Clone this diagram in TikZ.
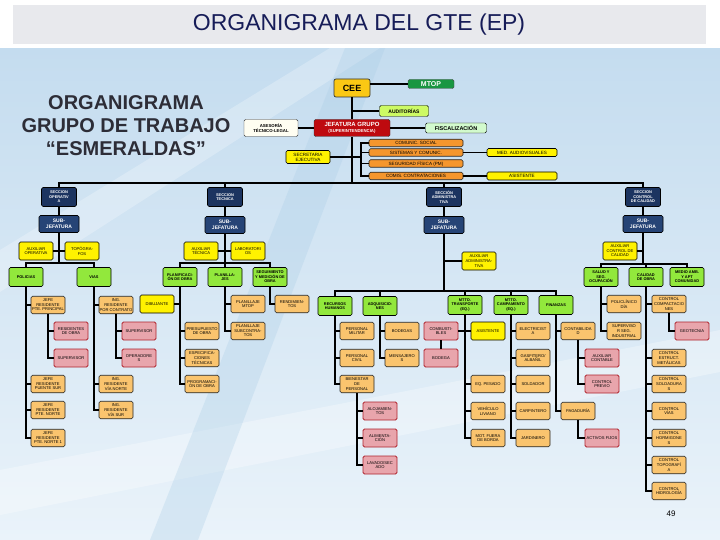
\documentclass[tikz,border=0pt]{standalone}
\usepackage{fontspec}
\setmainfont{Liberation Sans}
\definecolor{navyfill}{RGB}{28,52,96}
\definecolor{subfill}{RGB}{38,68,118}
\definecolor{limefill}{RGB}{146,232,60}
\definecolor{paleorange}{RGB}{250,196,110}
\definecolor{pinkfill}{RGB}{232,165,172}
\definecolor{pinkline}{RGB}{175,35,45}
\definecolor{orangefill}{RGB}{245,150,45}
\definecolor{goldfill}{RGB}{250,200,20}
\definecolor{mtopgreen}{RGB}{25,150,65}
\definecolor{auditgreen}{RGB}{205,250,100}
\definecolor{fiscgreen}{RGB}{210,250,205}
\definecolor{jefered}{RGB}{190,10,15}
\definecolor{bgtop}{RGB}{196,220,239}
\definecolor{bgbot}{RGB}{234,243,250}
\definecolor{bandblue}{RGB}{170,205,230}
\definecolor{titlegray}{RGB}{232,233,237}
\definecolor{titleblue}{RGB}{22,28,88}
\definecolor{headgray}{RGB}{45,45,55}
\begin{document}
\begin{tikzpicture}[x=1pt,y=-1pt,
    every node/.style={align=center, inner sep=0.5pt, rounded corners=1.5pt, font=\fontsize{4.1}{4.6}\selectfont},
    link/.style={line width=1.7pt, black},
    secbox/.style={draw=black, line width=.6pt, fill=navyfill, text=white, font=\bfseries\fontsize{3.9}{4.6}\selectfont, minimum width=35pt, minimum height=19pt},
    subbox/.style={secbox, fill=subfill, font=\bfseries\fontsize{5}{6}\selectfont, minimum width=40pt, minimum height=17pt},
    auxbox/.style={draw=black, line width=.6pt, fill=yellow, minimum width=34pt, minimum height=18pt},
    areabox/.style={draw=black, line width=.6pt, fill=limefill, font=\bfseries\fontsize{3.9}{4.6}\selectfont, minimum width=34pt, minimum height=19pt},
    unitbox/.style={draw=black!85, line width=.6pt, fill=paleorange, minimum width=34pt, minimum height=17.5pt},
    taskbox/.style={draw=pinkline, line width=.8pt, fill=pinkfill, minimum width=34pt, minimum height=18pt},
    staffbox/.style={draw=black!85, line width=.6pt, fill=orangefill, minimum width=94pt, minimum height=7.5pt, font=\fontsize{4.6}{5}\selectfont},
  ]
  \useasboundingbox (0,0) rectangle (720,540);
  % background
  \shade[top color=bgtop, bottom color=bgbot] (0,48) rectangle (720,540);
  \fill[white, opacity=.3] (0,470) -- (720,330) -- (720,372) -- (0,515) -- cycle;
  \fill[white, opacity=.25] (0,250) -- (330,48) -- (380,48) -- (0,292) -- cycle;
  \fill[bandblue, opacity=.3] (150,540) -- (198,540) -- (385,48) -- (345,48) -- cycle;
  \fill[white] (0,0) rectangle (720,48);
  \fill[titlegray] (13,5) rectangle (706,44);
  \node[font=\fontsize{23}{26}\selectfont, text=titleblue] (title) at (359,25) {ORGANIGRAMA DEL GTE (EP)};
  \node[font=\bfseries\fontsize{20}{23}\selectfont, text=headgray] (head) at (126,126) {ORGANIGRAMA\\GRUPO DE TRABAJO\\“ESMERALDAS”};
  \node[font=\fontsize{8}{9}\selectfont] (page) at (671,514) {49};

  % top of the group
  \node[draw=black!80, line width=.7pt, fill=goldfill, font=\bfseries\fontsize{9}{10}\selectfont, minimum width=36pt, minimum height=18pt, rounded corners=2pt] (cee) at (352,88) {CEE};
  \node[draw=black!70, fill=mtopgreen, text=white, font=\bfseries\fontsize{7}{8}\selectfont, minimum width=46pt, minimum height=9pt] (mtop) at (431,84) {MTOP};
  \node[draw=black, fill=auditgreen, font=\bfseries\fontsize{5}{6}\selectfont, minimum width=49pt, minimum height=11pt] (aud) at (404,111) {AUDITORÍAS};
  \node[draw=black!80, fill=jefered, text=white, font=\bfseries\fontsize{6}{6.5}\selectfont, minimum width=76pt, minimum height=17pt] (jefe) at (352,128) {JEFATURA GRUPO\\{\fontsize{4.3}{5}\selectfont(SUPERINTENDENCIA)}};
  \node[draw=black, fill=fiscgreen, font=\bfseries\fontsize{5.5}{6}\selectfont, minimum width=61pt, minimum height=10pt] (fisc) at (456,128) {FISCALIZACIÓN};
  \node[draw=black!80, fill=white!95!yellow, font=\bfseries\fontsize{4.3}{5}\selectfont, minimum width=54pt, minimum height=17pt] (ase) at (271,128) {ASESORÍA\\TÉCNICO-LEGAL};
  \node[auxbox, minimum width=44pt, minimum height=13pt, font=\fontsize{4.6}{5}\selectfont] (secre) at (308,157) {SECRETARIA\\EJECUTIVA};
  \node[staffbox] (comun) at (416,143) {COMUNIC. SOCIAL};
  \node[staffbox] (sist) at (416,152.5) {SISTEMAS Y COMUNIC.};
  \node[staffbox] (segf) at (416,163.5) {SEGURIDAD FÍSICA (PM)};
  \node[staffbox] (comis) at (416,176) {COMIS. CONTRATACIONES};
  \node[auxbox, minimum width=70pt, minimum height=8pt, font=\fontsize{4.6}{5}\selectfont] (med) at (522,152.5) {MED. AUDIOVISUALES};
  \node[auxbox, minimum width=70pt, minimum height=8pt, font=\fontsize{4.6}{5}\selectfont] (asis) at (522,176) {ASISTENTE};
  \coordinate (bus) at (352,184);

  % operativa
  \node[secbox] (secop) at (59,197) {SECCION\\OPERATIV\\A};
  \node[subbox] (sjop) at (59,224) {SUB-\\JEFATURA};
  \node[auxbox] (auxop) at (36,251) {AUXILIAR\\OPERATIVA};
  \node[auxbox] (topo) at (82,251) {TOPÓGRA-\\FOS};
  \node[areabox] (pol) at (26,277) {POLICIAS};
  \node[areabox] (vias) at (94,277) {VIAS};
  \node[unitbox] (jpp) at (48,305) {JEFE\\RESIDENTE\\PTE. PRINCIPAL};
  \node[taskbox] (resobra) at (71,331) {RESIDENTES\\DE OBRA};
  \node[taskbox] (supop) at (71,358) {SUPERVISOR};
  \node[unitbox] (jps) at (48,384) {JEFE\\RESIDENTE\\PUENTE SUR};
  \node[unitbox] (jpn) at (48,410) {JEFE\\RESIDENTE\\PTE. NORTE};
  \node[unitbox] (jpn1) at (48,438) {JEFE\\RESIDENTE\\PTE. NORTE 1};
  \node[unitbox] (irc) at (116,305) {ING.\\RESIDENTE\\POR CONTRATO};
  \node[taskbox] (supvia) at (139,331) {SUPERVISOR};
  \node[taskbox] (oper) at (139,358) {OPERADORE\\S};
  \node[unitbox] (irn) at (116,384) {ING.\\RESIDENTE\\VÍA NORTE};
  \node[unitbox] (irs) at (116,410) {ING.\\RESIDENTE\\VÍA SUR};
  \coordinate (opbus) at (59,263);

  % tecnica
  \node[secbox] (sectec) at (225,197) {SECCION\\TECNICA};
  \node[subbox] (sjtec) at (225,225) {SUB-\\JEFATURA};
  \node[auxbox] (auxtec) at (201,251) {AUXILIAR\\TÉCNICA};
  \node[auxbox] (lab) at (248,251) {LABORATORI\\OS};
  \node[areabox] (plan) at (180,277) {PLANIFICACI-\\ÓN DE OBRA};
  \node[areabox] (pll) at (225,277) {PLANILLA-\\JES};
  \node[areabox] (segm) at (270,277) {SEGUIMIENTO\\Y MEDICIÓN DE\\OBRA};
  \node[auxbox] (dib) at (157,304) {DIBUJANTE};
  \node[unitbox] (presup) at (202,331) {PRESUPUESTO\\DE OBRA};
  \node[unitbox] (espec) at (202,358) {ESPECIFICA-\\CIONES\\TÉCNICAS};
  \node[unitbox] (progr) at (202,384) {PROGRAMACI-\\ÓN DE OBRA};
  \node[unitbox] (plmtop) at (248,304) {PLANILLAJE\\MTOP};
  \node[unitbox] (plsub) at (248,331) {PLANILLAJE\\SUBCONTRA-\\TOS};
  \node[unitbox] (rend) at (292,304) {RENDIMIEN-\\TOS};
  \coordinate (tecbus) at (225,263);

  % administrativa
  \node[secbox] (secadm) at (444,197) {SECCIÓN\\ADMINISTRA\\TIVA};
  \node[subbox] (sjadm) at (444,225) {SUB-\\JEFATURA};
  \node[auxbox] (auxadm) at (479,261) {AUXILIAR\\ADMINISTRA-\\TIVA};
  \node[areabox] (rrhh) at (335,306) {RECURSOS\\HUMANOS};
  \node[areabox] (adq) at (380,306) {ADQUISICIO-\\NES};
  \node[areabox] (mttot) at (465,305) {MTTO.\\TRANSPORTE\\(EQ.)};
  \node[areabox] (mttoc) at (511,305) {MTTO.\\CAMPAMENTO\\(EQ.)};
  \node[areabox] (fin) at (556,305) {FINANZAS};
  \node[unitbox] (pmil) at (357,331) {PERSONAL\\MILITAR};
  \node[unitbox] (pciv) at (357,358) {PERSONAL\\CIVIL};
  \node[unitbox] (bien) at (357,384) {BIENESTAR\\DE\\PERSONAL};
  \node[taskbox] (aloj) at (380,411) {ALOJAMIEN-\\TOS};
  \node[taskbox] (alim) at (380,438) {ALIMENTA-\\CIÓN};
  \node[taskbox] (lav) at (380,465) {LAVADO/SEC\\ADO};
  \node[unitbox] (bodgs) at (402,331) {BODEGAS};
  \node[unitbox] (mens) at (402,358) {MENSAJERO\\S};
  \node[taskbox] (comb) at (441,331) {COMBUSTI-\\BLES};
  \node[taskbox] (bod) at (441,358) {BODEGA};
  \node[auxbox] (asmt) at (488,331) {ASISTENTE};
  \node[unitbox] (eqp) at (488,384) {EQ. PESADO};
  \node[unitbox] (vliv) at (488,411) {VEHÍCULO\\LIVIANO};
  \node[unitbox] (mot) at (488,438) {MOT. FUERA\\DE BORDA};
  \node[unitbox] (elec) at (533,331) {ELECTRICIST\\A};
  \node[unitbox] (gasf) at (533,358) {GASFITERO/\\ALBAÑIL};
  \node[unitbox] (sold) at (533,384) {SOLDADOR};
  \node[unitbox] (carp) at (533,411) {CARPINTERO};
  \node[unitbox] (jard) at (533,438) {JARDINERO};
  \node[unitbox] (cont) at (578,331) {CONTABILIDA\\D};
  \node[taskbox] (auxcont) at (602,358) {AUXILIAR\\CONTABLE};
  \node[taskbox] (cprev) at (602,384) {CONTROL\\PREVIO};
  \node[unitbox] (pag) at (578,411) {PAGADURÍA};
  \node[taskbox] (actf) at (602,438) {ACTIVOS FIJOS};
  \coordinate (admbus) at (444,291);

  % control de calidad
  \node[secbox] (seccal) at (643,197) {SECCION\\CONTROL\\DE CALIDAD};
  \node[subbox] (sjcal) at (643,224) {SUB-\\JEFATURA};
  \node[auxbox] (auxcal) at (620,251) {AUXILIAR\\CONTROL DE\\CALIDAD};
  \node[areabox] (salud) at (601,277) {SALUD Y\\SEG.\\OCUPACIÓN};
  \node[areabox] (calobra) at (646,277) {CALIDAD\\DE OBRA};
  \node[areabox] (amb) at (687,277) {MEDIO AMB.\\Y APT\\COMUNIDAD};
  \node[unitbox] (polic) at (624,304) {POLICLÍNICO\\DÍA};
  \node[unitbox] (supind) at (624,331) {SUPERVISO\\R SEG.\\INDUSTRIAL};
  \node[unitbox] (ccomp) at (669,304) {CONTROL\\COMPACTACIO\\NES};
  \node[taskbox] (geot) at (692,331) {GEOTECNIA};
  \node[unitbox] (cestr) at (669,358) {CONTROL\\ESTRUCT.\\METÁLICAS};
  \node[unitbox] (csold) at (669,384) {CONTROL\\SOLDADURA\\S};
  \node[unitbox] (cvias) at (669,411) {CONTROL\\VÍAS};
  \node[unitbox] (chorm) at (669,438) {CONTROL\\HORMIGONE\\S};
  \node[unitbox] (ctopo) at (669,465) {CONTROL\\TOPOGRAFÍ\\A};
  \node[unitbox] (chid) at (669,491) {CONTROL\\HIDROLOGÍA};
  \coordinate (calbus) at (643,264);

  % connectors, top
  \draw[link] (cee) -- (jefe);
  \draw[link] (jefe) -- (bus);
  \draw[link] (cee.east |- mtop) -- (mtop.west);
  \draw[link] (aud.west) -- (aud.west -| cee.south);
  \draw[link] (ase) -- (jefe);
  \draw[link] (jefe) -- (fisc);
  \draw[link] (comun.west) -- ++(-8,0) |- (comis.west);
  \draw[link] (sist.west) -- ++(-8,0);
  \draw[link] (segf.west) -- ++(-8,0);
  \draw[link] (secre.east) -- ++(31,0);
  \draw[link] (sist) -- (med);
  \draw[link] (comis) -- (asis);
  \draw[link] (secop.north) -- ++(0,-4) -| (seccal.north);
  \draw[link] (sectec.north) -- ++(0,-4);
  \draw[link] (secadm.north) -- ++(0,-4);

  % connectors, operativa
  \draw[link] (secop) -- (sjop);
  \draw[link] (sjop) -- (opbus);
  \draw[link] (pol.north) |- (opbus) -| (vias.north);
  \draw[link] (auxop) -- (topo);
  \draw[link] (pol.south) |- (jpp.west) (pol.south) |- (jps.west) (pol.south) |- (jpn.west) (pol.south) |- (jpn1.west);
  \draw[link] (jpp.south) |- (resobra.west) (jpp.south) |- (supop.west);
  \draw[link] (vias.south) |- (irc.west) (vias.south) |- (irn.west) (vias.south) |- (irs.west);
  \draw[link] (irc.south) |- (supvia.west) (irc.south) |- (oper.west);

  % connectors, tecnica
  \draw[link] (sectec) -- (sjtec);
  \draw[link] (sjtec) -- (tecbus) -- (pll);
  \draw[link] (plan.north) |- (tecbus) -| (segm.north);
  \draw[link] (auxtec) -- (lab);
  \draw[link] (plan.south) |- (presup.west) (plan.south) |- (espec.west) (plan.south) |- (progr.west);
  \draw[link] (dib.east) -- (dib.east -| plan.south);
  \draw[link] (pll.south) |- (plmtop.west) (pll.south) |- (plsub.west);
  \draw[link] (segm.south) |- (rend.west);

  % connectors, administrativa
  \draw[link] (secadm) -- (sjadm);
  \draw[link] (sjadm) -- (admbus);
  \draw[link] (rrhh.north) |- (admbus) -| (fin.north);
  \draw[link] (adq.north) -- (adq.north |- admbus);
  \draw[link] (mttot.north) -- (mttot.north |- admbus);
  \draw[link] (mttoc.north) -- (mttoc.north |- admbus);
  \draw[link] (auxadm.west) -- (auxadm.west -| sjadm.south);
  \draw[link] (rrhh.south) |- (pmil.west) (rrhh.south) |- (pciv.west) (rrhh.south) |- (bien.west);
  \draw[link] (bien.south) |- (aloj.west) (bien.south) |- (alim.west) (bien.south) |- (lav.west);
  \draw[link] (adq.south) |- (bodgs.west) (adq.south) |- (mens.west);
  \draw[link] (mttot.south) |- (comb.east) (mttot.south) |- (asmt.west) (mttot.south) |- (eqp.west) (mttot.south) |- (vliv.west) (mttot.south) |- (mot.west);
  \draw[link] (comb) -- (bod);
  \draw[link] (mttoc.south) |- (elec.west) (mttoc.south) |- (gasf.west) (mttoc.south) |- (sold.west) (mttoc.south) |- (carp.west) (mttoc.south) |- (jard.west);
  \draw[link] (fin.south) |- (cont.west) (fin.south) |- (pag.west);
  \draw[link] (cont.south) |- (auxcont.west) (cont.south) |- (cprev.west);
  \draw[link] (pag.south) |- (actf.west);

  % connectors, control de calidad
  \draw[link] (seccal) -- (sjcal);
  \draw[link] (sjcal) -- (calbus);
  \draw[link] (salud.north) |- (calbus) -| (amb.north);
  \draw[link] (calobra.north) -- (calobra.north |- calbus);
  \draw[link] (auxcal.east) -- (auxcal.east -| sjcal.south);
  \draw[link] (salud.south) |- (polic.west) (salud.south) |- (supind.west);
  \draw[link] (calobra.south) |- (ccomp.west) (calobra.south) |- (cestr.west) (calobra.south) |- (csold.west) (calobra.south) |- (cvias.west) (calobra.south) |- (chorm.west) (calobra.south) |- (ctopo.west) (calobra.south) |- (chid.west);
  \draw[link] (ccomp.south) |- (geot.west);
\end{tikzpicture}
\end{document}
